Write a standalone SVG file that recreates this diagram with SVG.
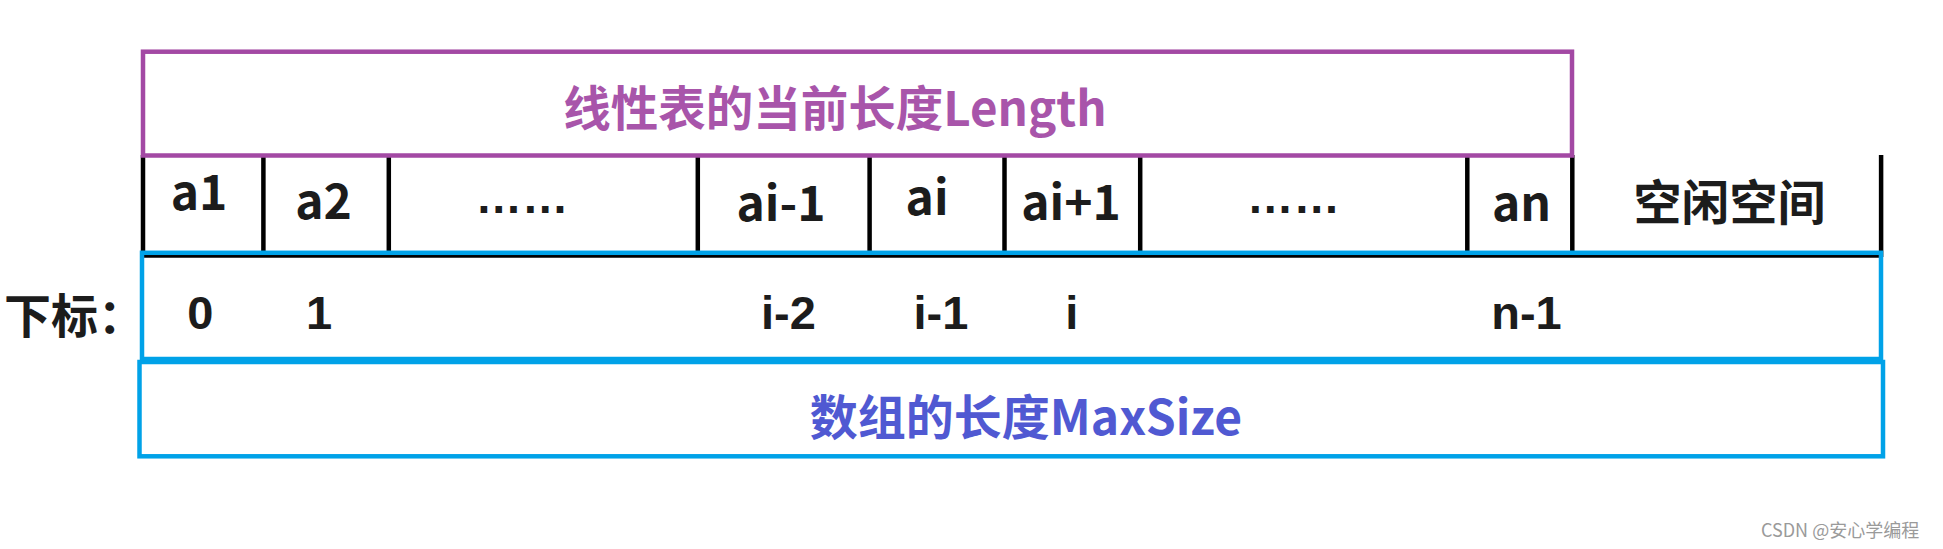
<svg xmlns="http://www.w3.org/2000/svg" width="1943" height="549" viewBox="0 0 1943 549">
  <style>
    .cjk { font-family: "Noto Sans CJK SC", "Noto Sans", sans-serif; font-weight: 700; }
    .cell { font-family: "Noto Sans CJK SC", "Noto Sans", sans-serif; font-weight: 700; font-size: 48px; fill: #1c1c1c; text-anchor: middle; }
    .dots { font-family: "Liberation Sans", Arial, sans-serif; font-weight: 700; font-size: 46.5px; fill: #1c1c1c; text-anchor: middle; }
    .idx { font-family: "Liberation Sans", Arial, sans-serif; font-weight: 700; font-size: 47px; fill: #1c1c1c; text-anchor: middle; }
    .div { stroke: #000; stroke-width: 4.5; fill: none; }
    .blue { stroke: #00A2E8; stroke-width: 4.5; fill: none; }
  </style>
  <rect width="1943" height="549" fill="#fff"/>

  <g id="connectors">
    <line x1="141" y1="256" x2="1883" y2="256" stroke="#000" stroke-width="3.5"/>
    <line class="div" x1="143" y1="155" x2="143" y2="257"/>
    <line class="div" x1="263.4" y1="155" x2="263.4" y2="257"/>
    <line class="div" x1="388.8" y1="155" x2="388.8" y2="257"/>
    <line class="div" x1="697.8" y1="155" x2="697.8" y2="257"/>
    <line class="div" x1="869.6" y1="155" x2="869.6" y2="257"/>
    <line class="div" x1="1004.5" y1="155" x2="1004.5" y2="257"/>
    <line class="div" x1="1140.2" y1="155" x2="1140.2" y2="257"/>
    <line class="div" x1="1467.3" y1="155" x2="1467.3" y2="257"/>
    <line class="div" x1="1572.3" y1="155" x2="1572.3" y2="257"/>
    <line class="div" x1="1881.1" y1="155" x2="1881.1" y2="257"/>
  </g>

  <g id="length-box">
    <rect x="143" y="51.7" width="1429" height="103.8" fill="none" stroke="#A349A4" stroke-width="4.5"/>
    <text class="cjk" x="835" y="126" font-size="47.5" fill="#A855AA" text-anchor="middle">线性表的当前长度Length</text>
  </g>

  <g id="cells">
    <text class="cell" x="199" y="209.5">a1</text>
    <text class="cell" x="323.5" y="218.5">a2</text>
    <text class="dots" x="522" y="212.7">……</text>
    <text class="cell" x="781" y="221">ai-1</text>
    <text class="cell" x="927" y="215">ai</text>
    <text class="cell" x="1071" y="220">ai+1</text>
    <text class="dots" x="1293.5" y="212.7">……</text>
    <text class="cell" x="1521.5" y="221">an</text>
    <text class="cell" x="1729.5" y="220">空闲空间</text>
  </g>

  <g id="index-row">
    <rect class="blue" x="142" y="252.8" width="1739" height="106.2"/>
    <text class="cjk" x="4" y="333" font-size="47" fill="#1c1c1c">下标：</text>
    <text class="idx" x="200.4" y="329">0</text>
    <text class="idx" x="319" y="329">1</text>
    <text class="idx" x="788.4" y="329">i-2</text>
    <text class="idx" x="941" y="329">i-1</text>
    <text class="idx" x="1071.8" y="329">i</text>
    <text class="idx" x="1526.5" y="329">n-1</text>
  </g>

  <g id="maxsize-box">
    <rect class="blue" x="139.5" y="362" width="1743.5" height="94.3"/>
    <text class="cjk" x="1026" y="435" font-size="48" fill="#5059D2" text-anchor="middle">数组的长度MaxSize</text>
  </g>

  <g id="watermark">
    <text x="1761" y="537" font-family="Noto Sans CJK SC, Noto Sans, sans-serif" font-size="18" fill="#9a9a9a">CSDN @安心学编程</text>
  </g>
</svg>
